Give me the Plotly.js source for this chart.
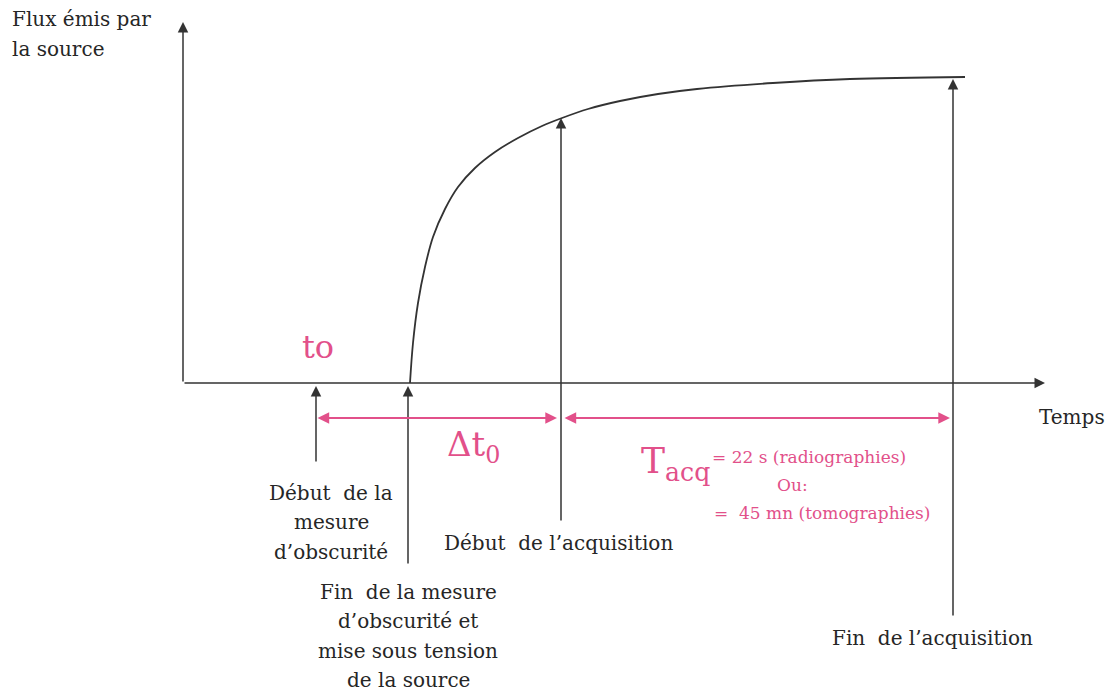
<!DOCTYPE html>
<html>
<head>
<meta charset="utf-8">
<script src="https://cdn.plot.ly/plotly-3.0.1.min.js"></script>
<style>html,body{margin:0;padding:0;background:#fff;}#chart{width:1107px;height:697px;}</style>
</head>
<body>
<div id="chart"></div>
<script>
// Source flux curve (time units arbitrary, flux arbitrary)
const curveTime = [22.7, 23.0, 23.5, 24.2, 25.0, 26.2, 27.5, 29.2, 31.2, 33.5, 35.9, 37.9, 40.5, 43.7, 47.5, 51.4, 59.0, 66.7, 78.2];
const curveFlux = [0.0, 4.0, 8.0, 11.6, 14.6, 17.4, 19.6, 21.5, 23.1, 24.5, 25.7, 26.5, 27.4, 28.2, 28.9, 29.4, 30.0, 30.4, 30.6];

// Event markers: t0, end of dark measurement, start of acquisition, end of acquisition
const eventTime   = [13.3, 22.5, 37.8, 77.0];
const eventTop    = [-0.3, -0.3, 26.5, 30.4];
const eventBottom = [-8.0, -18.2, -13.9, -23.4];

// Axis extents
const axisTimeMax = 86.2;
const axisFluxMax = 36.1;

// Interval double arrows (Δt0 and Tacq)
const intervalStart = [13.3, 38.0];
const intervalEnd   = [37.4, 76.7];
const intervalLevel = -3.5;

// Labels (one entry per line)
const yAxisLabel = ["Flux émis par", "la source"];
const xAxisLabel = "Temps";
const eventLabels = [
  ["Début\u00a0\u00a0de la", "mesure", "d\u2019obscurité"],
  ["Fin\u00a0\u00a0de la mesure", "d\u2019obscurité et", "mise sous tension", "de la source"],
  ["Début\u00a0\u00a0de l\u2019acquisition"],
  ["Fin\u00a0\u00a0de l\u2019acquisition"]
];
const eventLabelPos = [[14.8, -13.9], [22.5, -25.3], [37.5, -16.0], [74.9, -25.5]];
const t0Label = "to";
const dtLabel = "\u0394t<sub>0</sub>";
const tacqLabel = "T<sub>acq</sub>";
const tacqLines = ["= 22 s (radiographies)", "Ou:", "=\u00a0\u00a045 mn (tomographies)"];
const tacqLinePos = [[52.7, -7.4], [59.2, -10.2], [52.9, -13.0]];

const dark = '#262626';
const pink = '#e2508a';
const serif = 'DejaVu Serif';
const lineStep = 2.95;

const traces = [{
  x: curveTime, y: curveFlux, type: 'scatter', mode: 'lines',
  line: {color: '#333333', width: 1.8, shape: 'spline', smoothing: 1.0},
  hoverinfo: 'skip', showlegend: false
}];

const ann = [];
const arrowBase = {xref: 'x', yref: 'y', axref: 'x', ayref: 'y', showarrow: true,
  arrowhead: 2, arrowsize: 1.4, arrowwidth: 1.5, arrowcolor: '#333333', text: ''};
// axes arrows
ann.push(Object.assign({}, arrowBase, {x: 0, y: axisFluxMax, ax: 0, ay: 0}));
ann.push(Object.assign({}, arrowBase, {x: axisTimeMax, y: 0, ax: 0, ay: 0}));
// event arrows
for (let i = 0; i < eventTime.length; i++) {
  ann.push(Object.assign({}, arrowBase, {x: eventTime[i], y: eventTop[i], ax: eventTime[i], ay: eventBottom[i]}));
}
// interval arrows
for (let i = 0; i < intervalStart.length; i++) {
  ann.push({x: intervalEnd[i], y: intervalLevel, ax: intervalStart[i], ay: intervalLevel,
    xref: 'x', yref: 'y', axref: 'x', ayref: 'y',
    showarrow: true, arrowside: 'end+start', arrowhead: 2, startarrowhead: 2,
    arrowsize: 1.3, startarrowsize: 1.3, arrowwidth: 1.8, arrowcolor: pink, text: ''});
}
// texts
function addLines(lines, cx, cy, anchor, font) {
  const n = lines.length;
  for (let k = 0; k < n; k++) {
    ann.push({x: cx, y: cy + ((n - 1) / 2 - k) * lineStep, xref: 'x', yref: 'y', showarrow: false,
      xanchor: anchor, text: lines[k], font: font});
  }
}
const bodyFont = {family: serif, size: 20, color: dark};
addLines(yAxisLabel, -17.3, 34.9, 'left', bodyFont);
ann.push({x: 88.9, y: -3.4, xref: 'x', yref: 'y', showarrow: false, text: xAxisLabel, font: bodyFont});
for (let i = 0; i < eventLabels.length; i++) {
  addLines(eventLabels[i], eventLabelPos[i][0], eventLabelPos[i][1], 'center', bodyFont);
}
ann.push({x: 13.5, y: 3.6, xref: 'x', yref: 'y', showarrow: false, text: t0Label,
  font: {family: serif, size: 32, color: pink}});
ann.push({x: 29.0, y: -6.3, xref: 'x', yref: 'y', showarrow: false, text: dtLabel,
  font: {family: serif, size: 34, color: pink}});
ann.push({x: 49.2, y: -8.0, xref: 'x', yref: 'y', showarrow: false, text: tacqLabel,
  font: {family: serif, size: 36, color: pink}});
for (let i = 0; i < tacqLines.length; i++) {
  ann.push({x: tacqLinePos[i][0], y: tacqLinePos[i][1], xref: 'x', yref: 'y', showarrow: false,
    xanchor: 'left', text: tacqLines[i], font: {family: serif, size: 17, color: pink}});
}

const layout = {
  width: 1107, height: 697,
  margin: {l: 0, r: 0, t: 0, b: 0},
  paper_bgcolor: '#ffffff', plot_bgcolor: '#ffffff',
  xaxis: {range: [-18.3, 92.4], visible: false, fixedrange: true},
  yaxis: {range: [-31.4, 38.3], visible: false, fixedrange: true},
  showlegend: false,
  annotations: ann
};

Plotly.newPlot('chart', traces, layout, {displayModeBar: false, staticPlot: true});
</script>
</body>
</html>
